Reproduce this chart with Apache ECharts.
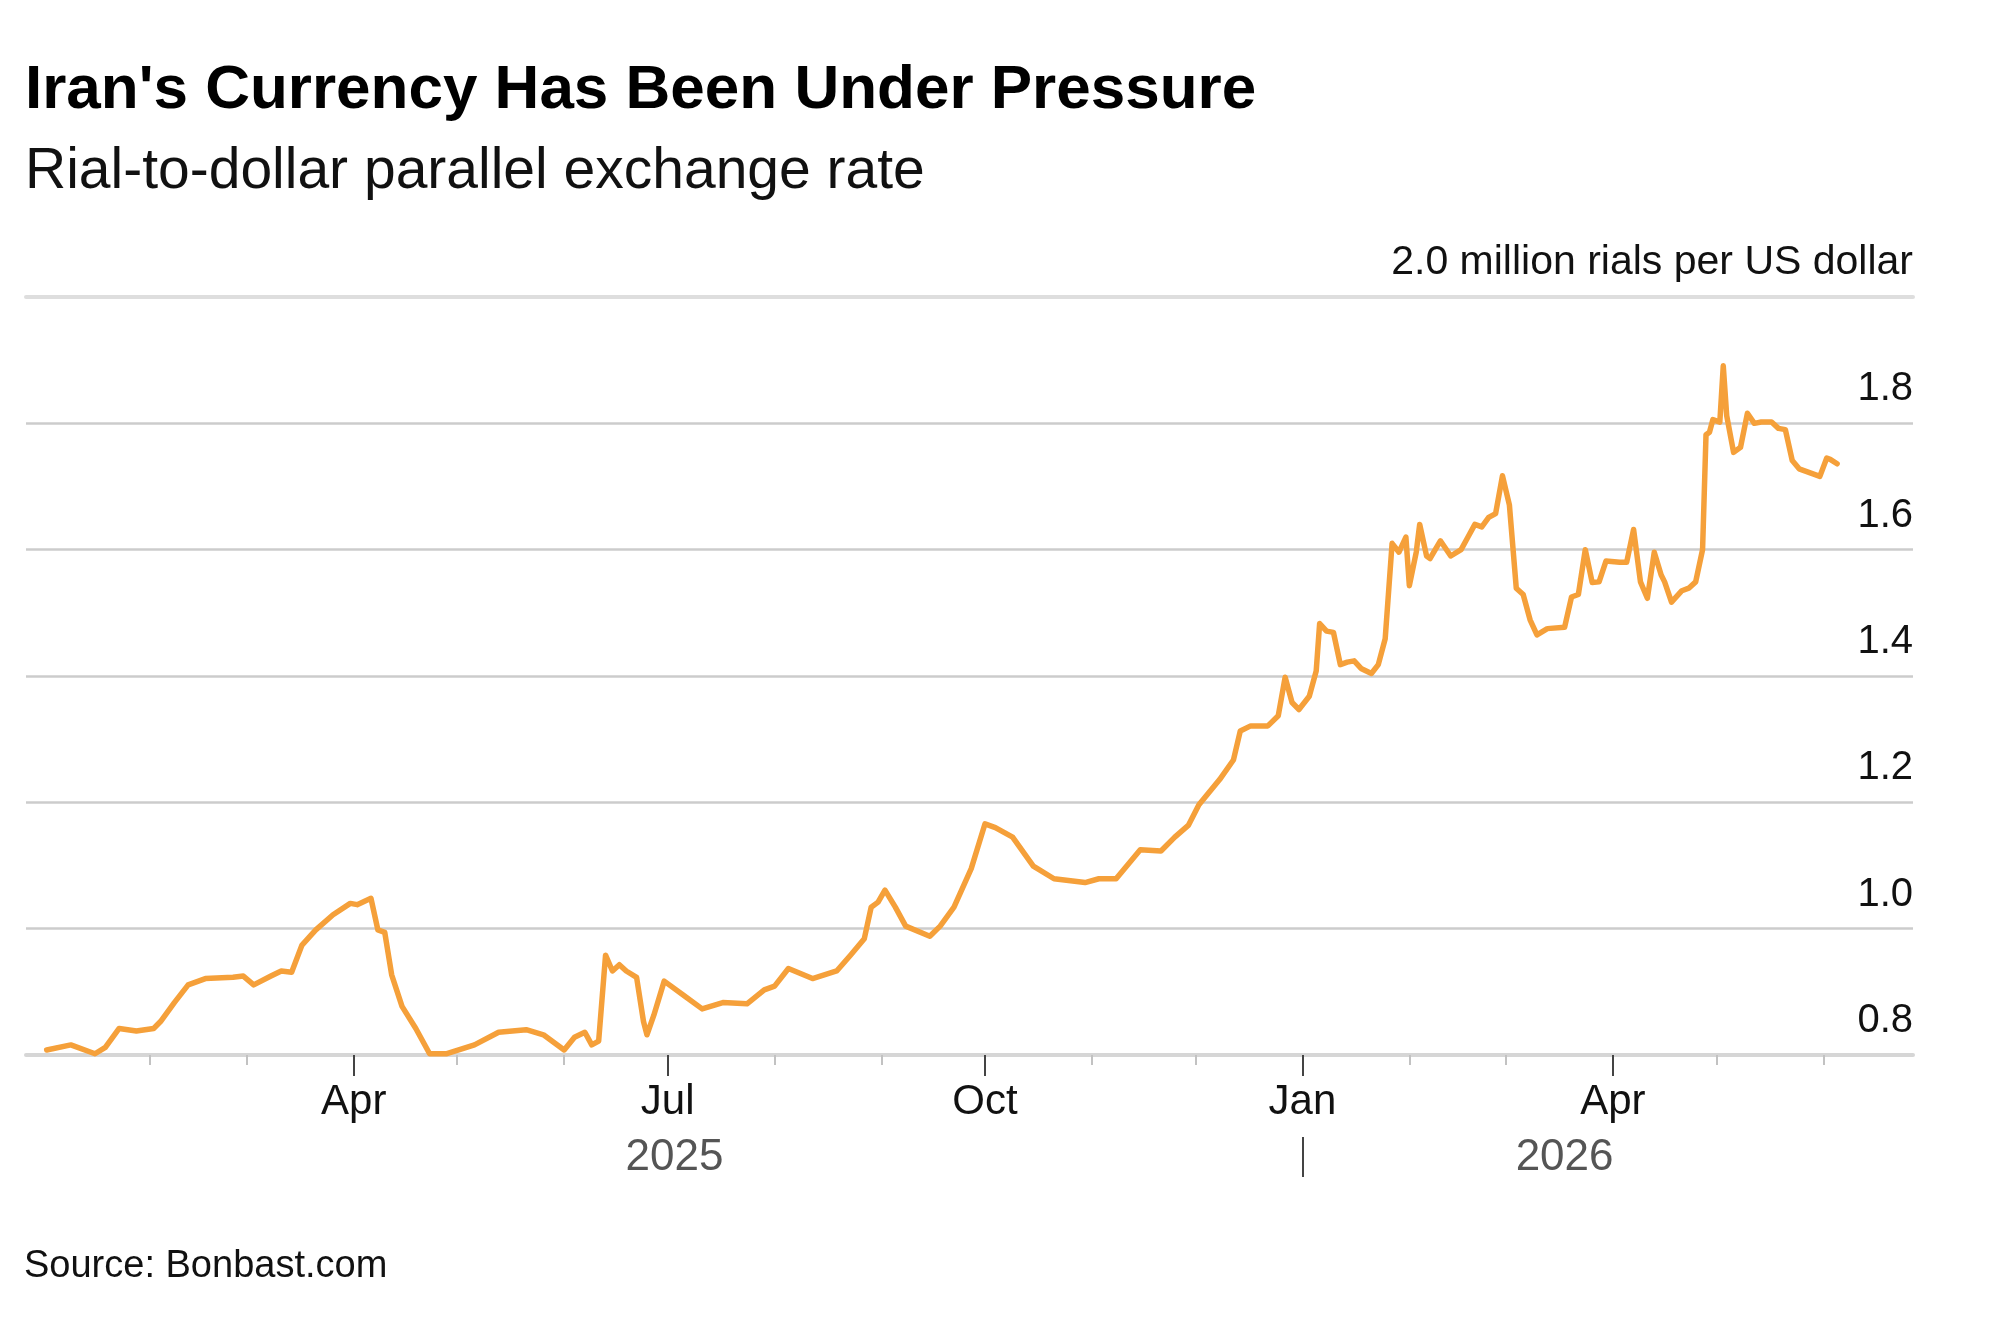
<!DOCTYPE html>
<html>
<head>
<meta charset="utf-8">
<title>Iran's Currency Has Been Under Pressure</title>
<script src="https://cdn.jsdelivr.net/npm/echarts@6/dist/echarts.min.js"></script>
<style>
    html, body { margin: 0; padding: 0; background: #fff; }
    #chart { width: 2000px; height: 1333px; }
</style>
</head>
<body>
<div id="chart"></div>
<script>
// values
const dates = [
    '2025-01-02', '2025-01-09', '2025-01-16', '2025-01-19', '2025-01-23', '2025-01-28',
    '2025-02-02', '2025-02-04', '2025-02-08', '2025-02-12', '2025-02-17', '2025-02-25', '2025-02-28',
    '2025-03-03', '2025-03-08', '2025-03-11', '2025-03-14', '2025-03-17', '2025-03-21', '2025-03-26', '2025-03-31',
    '2025-04-02', '2025-04-06', '2025-04-08', '2025-04-10', '2025-04-12', '2025-04-15', '2025-04-19', '2025-04-23', '2025-04-28',
    '2025-05-06', '2025-05-13', '2025-05-21', '2025-05-26',
    '2025-06-01', '2025-06-04', '2025-06-07', '2025-06-09', '2025-06-11', '2025-06-13', '2025-06-15', '2025-06-17',
    '2025-06-19', '2025-06-22', '2025-06-24', '2025-06-25', '2025-06-27', '2025-06-30',
    '2025-07-06', '2025-07-11', '2025-07-17', '2025-07-24', '2025-07-29',
    '2025-08-01', '2025-08-05', '2025-08-12', '2025-08-19', '2025-08-23', '2025-08-27', '2025-08-29', '2025-08-31',
    '2025-09-02', '2025-09-05', '2025-09-08', '2025-09-15', '2025-09-18', '2025-09-22', '2025-09-27',
    '2025-10-01', '2025-10-04', '2025-10-09', '2025-10-15', '2025-10-21', '2025-10-27', '2025-10-30',
    '2025-11-03', '2025-11-08', '2025-11-15', '2025-11-21', '2025-11-25', '2025-11-29',
    '2025-12-02', '2025-12-08', '2025-12-12', '2025-12-14', '2025-12-17', '2025-12-22', '2025-12-25',
    '2025-12-27', '2025-12-29', '2025-12-31',
    '2026-01-03', '2026-01-05', '2026-01-06', '2026-01-08', '2026-01-10', '2026-01-12', '2026-01-14',
    '2026-01-16', '2026-01-18', '2026-01-21', '2026-01-23', '2026-01-25', '2026-01-27', '2026-01-29', '2026-01-31',
    '2026-02-01', '2026-02-03', '2026-02-04', '2026-02-06', '2026-02-07', '2026-02-10', '2026-02-13',
    '2026-02-16', '2026-02-18', '2026-02-20', '2026-02-22', '2026-02-24', '2026-02-26', '2026-02-28',
    '2026-03-02', '2026-03-04', '2026-03-06', '2026-03-08', '2026-03-10', '2026-03-13', '2026-03-18',
    '2026-03-20', '2026-03-22', '2026-03-24', '2026-03-26', '2026-03-28', '2026-03-30',
    '2026-04-03', '2026-04-05', '2026-04-07', '2026-04-09', '2026-04-11', '2026-04-13', '2026-04-15',
    '2026-04-16', '2026-04-18', '2026-04-21', '2026-04-23', '2026-04-25', '2026-04-27', '2026-04-28',
    '2026-04-29', '2026-04-30',
    '2026-05-02', '2026-05-03', '2026-05-04', '2026-05-06', '2026-05-08', '2026-05-10', '2026-05-12',
    '2026-05-14', '2026-05-17', '2026-05-19', '2026-05-21', '2026-05-23', '2026-05-25', '2026-05-29', '2026-05-31',
    '2026-06-02', '2026-06-03', '2026-06-05'
];

// million rials per US dollar
const rates = [
    0.808, 0.816, 0.802, 0.812, 0.842, 0.838,
    0.842, 0.853, 0.883, 0.911, 0.921, 0.923, 0.925,
    0.911, 0.925, 0.933, 0.931, 0.974, 0.998, 1.022, 1.040,
    1.038, 1.048, 0.998, 0.994, 0.927, 0.877, 0.842, 0.802, 0.802,
    0.816, 0.836, 0.840, 0.832,
    0.808, 0.828, 0.836, 0.816, 0.822, 0.958, 0.933, 0.943,
    0.933, 0.923, 0.853, 0.832, 0.863, 0.917,
    0.893, 0.873, 0.883, 0.881, 0.903,
    0.909, 0.937, 0.921, 0.933, 0.958, 0.984, 1.034, 1.042,
    1.061, 1.034, 1.004, 0.988, 1.004, 1.034, 1.095,
    1.166, 1.160, 1.145, 1.099, 1.079, 1.075, 1.073,
    1.079, 1.079, 1.125, 1.123, 1.145, 1.164,
    1.196, 1.236, 1.267, 1.313, 1.321, 1.321, 1.337,
    1.398, 1.358, 1.347,
    1.368, 1.408, 1.483, 1.471, 1.469, 1.418, 1.422,
    1.424, 1.412, 1.404, 1.418, 1.459, 1.610, 1.596, 1.620,
    1.543, 1.596, 1.640, 1.590, 1.586, 1.614, 1.590,
    1.600, 1.620, 1.640, 1.636, 1.651, 1.657, 1.717,
    1.671, 1.539, 1.529, 1.489, 1.465, 1.475, 1.477,
    1.525, 1.529, 1.600, 1.548, 1.549, 1.582,
    1.580, 1.580, 1.632, 1.549, 1.523, 1.596, 1.560,
    1.549, 1.517, 1.535, 1.539, 1.549, 1.600, 1.782,
    1.786, 1.806,
    1.802, 1.891, 1.812, 1.754, 1.762, 1.816, 1.800,
    1.802, 1.802, 1.792, 1.790, 1.741, 1.728, 1.720, 1.716,
    1.745, 1.743, 1.736
];

const axisStart = '2024-12-27';
const axisEnd = '2026-06-27';
const monthTicks = [
    '2025-02-01', '2025-03-01', '2025-04-01', '2025-05-01', '2025-06-01', '2025-07-01',
    '2025-08-01', '2025-09-01', '2025-10-01', '2025-11-01', '2025-12-01', '2026-01-01',
    '2026-02-01', '2026-03-01', '2026-04-01', '2026-05-01', '2026-06-01'
];
const quarterTicks = ['2025-04-01', '2025-07-01', '2025-10-01', '2026-01-01', '2026-04-01'];
const monthNames = ['Jan', 'Feb', 'Mar', 'Apr', 'May', 'Jun', 'Jul', 'Aug', 'Sep', 'Oct', 'Nov', 'Dec'];
// year labels sit in the middle of the span each year covers
const yearLabelAt = ['2025-07-03', '2026-03-18'];
const yearBreaks = ['2026-01-01'];

const yMin = 0.8;
const yMax = 2.0;
const yStep = 0.2;
const unitText = '2.0 million rials per US dollar';

const titleText = "Iran's Currency Has Been Under Pressure";
const subtitleText = 'Rial-to-dollar parallel exchange rate';
const sourceText = 'Source: Bonbast.com';

const FONT = '"Liberation Sans", Arial, Helvetica, sans-serif';

function ts(s) {
    const p = s.split('-').map(Number);
    return new Date(p[0], p[1] - 1, p[2]).getTime();
}

window.onload = function () {
    const chart = echarts.init(document.getElementById('chart'), null, { renderer: 'canvas' });
    const seriesData = dates.map((d, i) => [ts(d), rates[i]]);
    const xMin = ts(axisStart);
    const xMax = ts(axisEnd);

    // x axes are plain value axes holding timestamps, ticks placed by customValues
    const baseX = {
        type: 'value', min: xMin, max: xMax, position: 'bottom', scale: true,
        axisLine: { show: false },
        axisTick: { show: false },
        axisLabel: { show: false },
        splitLine: { show: false }
    };

    const option = {
        backgroundColor: '#ffffff',
        animation: false,
        textStyle: { fontFamily: FONT },
        title: [
            {
                text: titleText, left: 25, top: 60, padding: 0,
                textStyle: { fontFamily: FONT, fontSize: 62, fontWeight: 'bold', color: '#000' }
            },
            {
                text: subtitleText, left: 25, top: 144, padding: 0,
                textStyle: { fontFamily: FONT, fontSize: 57, fontWeight: 'normal', color: '#111' }
            },
            {
                text: sourceText, left: 24, top: 1248, padding: 0,
                textStyle: { fontFamily: FONT, fontSize: 38, fontWeight: 'normal', color: '#111' }
            }
        ],
        grid: {
            left: 26,
            right: 87,
            top: 297,
            bottom: 278,
            containLabel: false
        },
        xAxis: [
            Object.assign({}, baseX, {
                // axis line with monthly ticks
                axisLine: { show: true, lineStyle: { color: '#d6d6d6', width: 4 } },
                axisTick: { show: true, customValues: monthTicks.map(ts), length: 10, lineStyle: { color: '#c2c2c2', width: 2 } }
            }),
            Object.assign({}, baseX, {
                // quarter ticks and month names
                axisTick: { show: true, customValues: quarterTicks.map(ts), length: 21, lineStyle: { color: '#444', width: 2 } },
                axisLabel: {
                    show: true,
                    customValues: quarterTicks.map(ts),
                    formatter: function (v) { return monthNames[new Date(v).getMonth()]; },
                    fontFamily: FONT, fontSize: 42, color: '#111',
                    margin: 47, verticalAlign: 'middle'
                }
            }),
            Object.assign({}, baseX, {
                // year row
                offset: 82,
                axisTick: { show: true, customValues: yearBreaks.map(ts), length: 40, lineStyle: { color: '#444', width: 2 } },
                axisLabel: {
                    show: true,
                    customValues: yearLabelAt.map(ts),
                    formatter: function (v) { return String(new Date(v).getFullYear()); },
                    fontFamily: FONT, fontSize: 44, color: '#555',
                    margin: 21, verticalAlign: 'middle'
                }
            }),
            Object.assign({}, baseX, {
                // heavier top rule
                position: 'top',
                axisLine: { show: true, lineStyle: { color: '#dedede', width: 4 } }
            })
        ],
        yAxis: {
            type: 'value',
            position: 'right',
            min: yMin,
            max: yMax,
            interval: yStep,
            axisLine: { show: false },
            axisTick: { show: false },
            splitLine: { show: true, lineStyle: { color: '#cccccc', width: 2.5 } },
            axisLabel: {
                inside: true,
                margin: 0,
                verticalAlign: 'bottom',
                padding: [0, 0, 14, 0],
                formatter: function (v) {
                    if (v >= yMax - 0.001) {
                        return '{u|' + unitText + '}';
                    }
                    return '{n|' + v.toFixed(1) + '}';
                },
                rich: {
                    n: { fontFamily: FONT, fontSize: 40, lineHeight: 40, color: '#111' },
                    u: { fontFamily: FONT, fontSize: 41, lineHeight: 41, color: '#111' }
                }
            }
        },
        series: [
            {
                name: 'Rial per US dollar',
                type: 'line',
                xAxisIndex: 0,
                data: seriesData,
                showSymbol: false,
                symbol: 'none',
                smooth: false,
                lineStyle: { color: '#f5a03a', width: 5.5, join: 'round', cap: 'round' },
                z: 5
            }
        ]
    };

    chart.setOption(option);
};
</script>
</body>
</html>
